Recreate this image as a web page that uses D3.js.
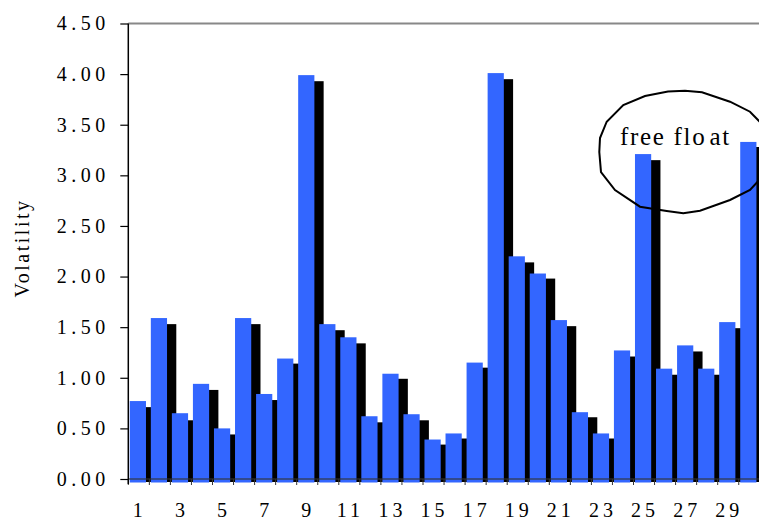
<!DOCTYPE html>
<html>
<head>
<meta charset="utf-8">
<script src="https://cdn.jsdelivr.net/npm/d3@7"></script>
<style>
  html, body { margin: 0; padding: 0; background: #fff; overflow: hidden; }
  svg { display: block; }
  text { font-family: "Liberation Serif", "Times New Roman", serif; fill: #000; }
</style>
</head>
<body>
<svg id="chart" width="759" height="523"></svg>
<script>
// Categories 1..30 along the x axis
const categories = [1,2,3,4,5,6,7,8,9,10,11,12,13,14,15,16,17,18,19,20,21,22,23,24,25,26,27,28,29,30];

// Front (blue) series
const seriesFront = [0.77,1.59,0.65,0.94,0.50,1.59,0.84,1.19,3.99,1.53,1.40,0.62,1.04,0.64,0.39,
                     0.45,1.15,4.01,2.20,2.03,1.57,0.66,0.45,1.27,3.21,1.09,1.32,1.09,1.55,3.33];

// Back (black) series
const seriesBack  = [0.71,1.53,0.58,0.88,0.44,1.53,0.78,1.14,3.93,1.47,1.34,0.56,0.99,0.58,0.34,
                     0.40,1.10,3.95,2.14,1.98,1.51,0.61,0.40,1.21,3.15,1.03,1.26,1.03,1.49,3.28];

// Axis ticks and labels
const yTicks = [0, 0.5, 1, 1.5, 2, 2.5, 3, 3.5, 4, 4.5];
const xLabelCats = [1,3,5,7,9,11,13,15,17,19,21,23,25,27,29];
const yTitle = "Volatility";
const noteParts = ["free flo", "at"];

const svg = d3.select("#chart");

const plotLeft = 128.3, plotRight = 759.8, plotTop = 23.5, plotBottom = 479;

const x = d3.scaleBand().domain(categories).range([plotLeft, plotRight]).padding(0);
const y = d3.scaleLinear().domain([0, 4.5]).range([plotBottom, plotTop]);
const bw = x.bandwidth();

// Top border of the plot area
svg.append("line")
  .attr("x1", plotLeft).attr("x2", 760)
  .attr("y1", plotTop).attr("y2", plotTop)
  .attr("stroke", "#888").attr("stroke-width", 2);

// Back bars first, offset to the right
svg.append("g").selectAll("rect")
  .data(categories)
  .join("rect")
  .attr("x", (d) => x(d) + bw * 0.5)
  .attr("width", bw * 0.78)
  .attr("y", (d, i) => y(seriesBack[i]))
  .attr("height", (d, i) => y(0) - y(seriesBack[i]) + 3)
  .attr("fill", "#000");

// Front bars on top of every back bar
svg.append("g").selectAll("rect")
  .data(categories)
  .join("rect")
  .attr("x", (d) => x(d) + bw * 0.07)
  .attr("width", bw * 0.77)
  .attr("y", (d, i) => y(seriesFront[i]))
  .attr("height", (d, i) => y(0) - y(seriesFront[i]) + 3.5)
  .attr("fill", "#3366ff");

// X axis base line
svg.append("line")
  .attr("x1", plotLeft).attr("x2", 760)
  .attr("y1", plotBottom).attr("y2", plotBottom)
  .attr("stroke", "#333").attr("stroke-opacity", 0.75).attr("stroke-width", 1.5);

// Tick marks at category boundaries
const boundaries = categories.map((c) => x(c));
svg.append("g").selectAll("line")
  .data(boundaries)
  .join("line")
  .attr("x1", (d) => d).attr("x2", (d) => d)
  .attr("y1", plotBottom).attr("y2", plotBottom + 6)
  .attr("stroke", "#333").attr("stroke-width", 1);

// X labels at odd categories
const xAxis = d3.axisBottom(x).tickValues(xLabelCats).tickSize(0).tickPadding(24);
const gx = svg.append("g").attr("transform", `translate(0,${plotBottom})`).call(xAxis);
gx.select(".domain").remove();
gx.selectAll("text")
  .attr("font-size", 20)
  .attr("font-family", "Liberation Serif")
  .attr("letter-spacing", 4)
  .attr("dx", 1);

// Y axis
const yAxis = d3.axisLeft(y).tickValues(yTicks).tickFormat(d3.format(".2f")).tickSize(8).tickPadding(15);
const gy = svg.append("g").attr("transform", `translate(${plotLeft},0)`).call(yAxis);
gy.select(".domain").attr("stroke", "#000").attr("stroke-width", 1.5)
  .attr("d", `M0,${plotTop}V${plotBottom + 5}`);
gy.selectAll(".tick line").attr("stroke", "#000").attr("stroke-width", 1.2);
gy.selectAll("text")
  .attr("font-size", 20)
  .attr("font-family", "Liberation Serif")
  .attr("letter-spacing", 4.5)
  .attr("dx", 4.5);

// Y axis title
svg.append("text")
  .attr("transform", `translate(29,248) rotate(-90)`)
  .attr("text-anchor", "middle")
  .attr("font-size", 20)
  .attr("letter-spacing", 2.5)
  .text(yTitle);

// Hand-drawn outline around the annotation
const outline = [
  [668,91.5],[685,90.7],[702,92.3],[730,101.7],[750,111.7],[760,122],[765,142],[766,160],[763,176],
  [750,190],[730,200],[700,210.7],[683.3,213.3],[666.7,211],[640,206.7],[615,190],[601,172],
  [599.3,152],[600,138],[606.7,121.7],[623.3,105],[645,96]
];
svg.append("path")
  .attr("d", d3.line().curve(d3.curveLinearClosed)(outline))
  .attr("fill", "none")
  .attr("stroke", "#000")
  .attr("stroke-width", 2);

const note = svg.append("text")
  .attr("x", 620)
  .attr("y", 145)
  .attr("font-size", 25)
  .attr("letter-spacing", 1.7);
note.append("tspan").text(noteParts[0]);
note.append("tspan").attr("dx", 3).text(noteParts[1]);
</script>
</body>
</html>
